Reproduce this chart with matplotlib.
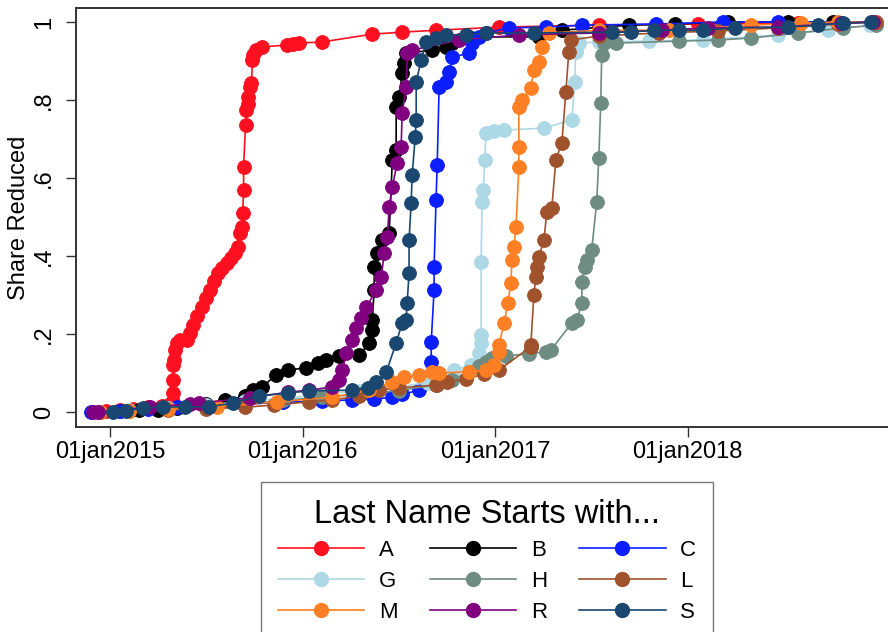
import matplotlib
matplotlib.use('Agg')
import matplotlib.pyplot as plt
from matplotlib.lines import Line2D

plt.rcParams['font.family'] = ['Liberation Sans', 'DejaVu Sans']

# ---- data (dates as decimal years, share reduced) ----
A_t = [2014.98, 2015.05, 2015.12, 2015.20, 2015.27, 2015.31, 2015.326, 2015.326, 2015.326, 2015.328, 2015.331, 2015.337, 2015.347, 2015.362, 2015.399, 2015.414, 2015.430, 2015.451, 2015.476, 2015.497, 2015.518, 2015.539, 2015.559, 2015.580, 2015.606, 2015.627, 2015.647, 2015.663, 2015.673, 2015.684, 2015.689, 2015.694, 2015.694, 2015.704, 2015.709, 2015.715, 2015.715, 2015.725, 2015.735, 2015.740, 2015.745, 2015.761, 2015.787, 2015.917, 2015.948, 2015.984, 2016.103, 2016.362, 2016.517, 2016.693, 2017.020, 2017.537, 2018.055, 2018.573, 2018.960]
A_y = [0.002, 0.005, 0.008, 0.012, 0.016, 0.020, 0.026, 0.049, 0.082, 0.120, 0.133, 0.159, 0.177, 0.185, 0.185, 0.203, 0.223, 0.246, 0.269, 0.292, 0.313, 0.336, 0.356, 0.369, 0.382, 0.395, 0.408, 0.423, 0.459, 0.474, 0.510, 0.569, 0.628, 0.736, 0.774, 0.790, 0.808, 0.833, 0.844, 0.903, 0.915, 0.928, 0.936, 0.941, 0.944, 0.946, 0.949, 0.969, 0.974, 0.979, 0.987, 0.992, 0.995, 0.997, 1.000]

B_t = [2014.95, 2015.05, 2015.15, 2015.25, 2015.35, 2015.50, 2015.60, 2015.70, 2015.741, 2015.792, 2015.860, 2015.927, 2016.020, 2016.082, 2016.124, 2016.191, 2016.295, 2016.346, 2016.362, 2016.362, 2016.372, 2016.372, 2016.388, 2016.414, 2016.450, 2016.466, 2016.486, 2016.486, 2016.502, 2016.517, 2016.528, 2016.538, 2016.673, 2016.745, 2016.776, 2016.864, 2017.227, 2017.346, 2017.693, 2017.936, 2018.210, 2018.520, 2018.755, 2018.960]
B_y = [0.000, 0.002, 0.005, 0.005, 0.010, 0.020, 0.030, 0.040, 0.056, 0.064, 0.095, 0.108, 0.113, 0.126, 0.133, 0.144, 0.146, 0.177, 0.210, 0.236, 0.313, 0.372, 0.408, 0.441, 0.459, 0.646, 0.672, 0.782, 0.808, 0.869, 0.895, 0.920, 0.928, 0.936, 0.946, 0.962, 0.962, 0.979, 0.992, 0.995, 1.000, 1.000, 1.000, 1.000]

C_t = [2014.90, 2015.05, 2015.20, 2015.35, 2015.50, 2015.70, 2015.90, 2016.10, 2016.258, 2016.372, 2016.466, 2016.517, 2016.605, 2016.652, 2016.668, 2016.668, 2016.683, 2016.683, 2016.693, 2016.699, 2016.709, 2016.745, 2016.761, 2016.776, 2016.864, 2016.880, 2016.916, 2016.952, 2017.071, 2017.263, 2017.450, 2017.833, 2018.185, 2018.470, 2018.960]
C_y = [0.000, 0.003, 0.008, 0.012, 0.016, 0.020, 0.025, 0.028, 0.031, 0.033, 0.038, 0.045, 0.056, 0.090, 0.128, 0.180, 0.313, 0.372, 0.544, 0.633, 0.833, 0.846, 0.872, 0.910, 0.920, 0.946, 0.962, 0.972, 0.985, 0.987, 0.992, 0.995, 1.000, 1.000, 1.000]

G_t = [2014.95, 2015.10, 2015.30, 2015.50, 2015.70, 2015.90, 2016.10, 2016.30, 2016.50, 2016.65, 2016.787, 2016.875, 2016.916, 2016.927, 2016.927, 2016.927, 2016.932, 2016.937, 2016.947, 2016.952, 2016.994, 2017.046, 2017.253, 2017.398, 2017.413, 2017.418, 2017.434, 2017.538, 2017.796, 2018.081, 2018.470, 2018.729, 2018.946]
G_y = [0.000, 0.004, 0.010, 0.018, 0.027, 0.035, 0.045, 0.055, 0.065, 0.075, 0.108, 0.120, 0.151, 0.177, 0.197, 0.385, 0.538, 0.569, 0.646, 0.715, 0.720, 0.723, 0.728, 0.749, 0.846, 0.923, 0.946, 0.949, 0.951, 0.954, 0.967, 0.979, 0.992]

H_t = [2014.95, 2015.10, 2015.30, 2015.50, 2015.70, 2015.90, 2016.10, 2016.30, 2016.50, 2016.70, 2016.776, 2016.864, 2016.916, 2016.952, 2016.983, 2017.056, 2017.175, 2017.263, 2017.289, 2017.398, 2017.424, 2017.450, 2017.450, 2017.465, 2017.475, 2017.501, 2017.527, 2017.538, 2017.548, 2017.553, 2017.563, 2017.626, 2017.952, 2018.159, 2018.330, 2018.573, 2018.806, 2018.977]
H_y = [0.000, 0.003, 0.008, 0.014, 0.020, 0.030, 0.038, 0.045, 0.055, 0.070, 0.082, 0.103, 0.118, 0.128, 0.138, 0.144, 0.149, 0.154, 0.159, 0.228, 0.236, 0.279, 0.333, 0.372, 0.390, 0.415, 0.538, 0.651, 0.792, 0.915, 0.946, 0.946, 0.951, 0.954, 0.959, 0.972, 0.985, 0.992]

L_t = [2014.95, 2015.10, 2015.30, 2015.50, 2015.70, 2015.85, 2016.036, 2016.155, 2016.295, 2016.398, 2016.502, 2016.693, 2016.750, 2016.849, 2016.942, 2017.020, 2017.185, 2017.185, 2017.201, 2017.211, 2017.216, 2017.227, 2017.253, 2017.268, 2017.294, 2017.315, 2017.346, 2017.367, 2017.382, 2017.393, 2017.538, 2017.848, 2018.159, 2018.470, 2018.780, 2018.977]
L_y = [0.000, 0.002, 0.005, 0.008, 0.012, 0.018, 0.026, 0.031, 0.041, 0.056, 0.062, 0.069, 0.077, 0.085, 0.097, 0.108, 0.167, 0.172, 0.300, 0.346, 0.372, 0.397, 0.441, 0.513, 0.523, 0.646, 0.690, 0.821, 0.923, 0.954, 0.964, 0.972, 0.977, 0.985, 0.995, 1.000]

M_t = [2014.95, 2015.10, 2015.30, 2015.554, 2015.865, 2016.155, 2016.346, 2016.466, 2016.528, 2016.605, 2016.673, 2016.709, 2016.864, 2016.952, 2016.994, 2017.020, 2017.020, 2017.046, 2017.066, 2017.082, 2017.087, 2017.097, 2017.108, 2017.123, 2017.123, 2017.123, 2017.139, 2017.185, 2017.201, 2017.227, 2017.242, 2017.279, 2017.538, 2017.900, 2018.330, 2018.589, 2018.780, 2018.960]
M_y = [0.000, 0.003, 0.008, 0.013, 0.026, 0.038, 0.056, 0.077, 0.090, 0.095, 0.103, 0.100, 0.103, 0.108, 0.120, 0.154, 0.172, 0.228, 0.279, 0.331, 0.390, 0.423, 0.474, 0.628, 0.679, 0.782, 0.800, 0.831, 0.877, 0.897, 0.936, 0.972, 0.979, 0.979, 0.992, 0.997, 1.000, 1.000]

R_t = [2014.912, 2014.938, 2015.207, 2015.414, 2015.461, 2015.725, 2015.927, 2016.036, 2016.155, 2016.191, 2016.207, 2016.227, 2016.258, 2016.279, 2016.305, 2016.331, 2016.383, 2016.409, 2016.424, 2016.440, 2016.450, 2016.466, 2016.491, 2016.512, 2016.517, 2016.538, 2016.543, 2016.569, 2016.812, 2017.123, 2017.538, 2017.864, 2018.107, 2018.470, 2018.796, 2018.960]
R_y = [0.000, 0.000, 0.013, 0.020, 0.023, 0.036, 0.051, 0.056, 0.064, 0.082, 0.108, 0.151, 0.185, 0.215, 0.241, 0.269, 0.313, 0.346, 0.408, 0.449, 0.526, 0.577, 0.638, 0.679, 0.767, 0.833, 0.920, 0.928, 0.954, 0.967, 0.972, 0.979, 0.985, 0.987, 0.997, 1.000]

S_t = [2015.016, 2015.083, 2015.171, 2015.274, 2015.388, 2015.513, 2015.637, 2015.772, 2015.927, 2016.036, 2016.258, 2016.341, 2016.383, 2016.435, 2016.486, 2016.517, 2016.538, 2016.543, 2016.553, 2016.553, 2016.564, 2016.569, 2016.585, 2016.590, 2016.590, 2016.616, 2016.642, 2016.693, 2016.745, 2016.849, 2016.952, 2017.201, 2017.605, 2017.703, 2017.822, 2017.952, 2018.081, 2018.247, 2018.521, 2018.677, 2018.806, 2018.951]
S_y = [0.000, 0.003, 0.010, 0.013, 0.013, 0.013, 0.023, 0.041, 0.049, 0.054, 0.056, 0.062, 0.077, 0.103, 0.177, 0.228, 0.236, 0.279, 0.356, 0.441, 0.536, 0.608, 0.705, 0.749, 0.846, 0.903, 0.949, 0.959, 0.967, 0.967, 0.972, 0.972, 0.974, 0.974, 0.979, 0.979, 0.979, 0.985, 0.987, 0.992, 0.997, 1.000]

labels = ['A', 'B', 'C', 'G', 'H', 'L', 'M', 'R', 'S']
colors = ['#FF1020', '#000000', '#0A1EFF', '#ADD8E6', '#6E8C82', '#A0522D', '#FF8024', '#800080', '#1A476F']
series = [(A_t, A_y), (B_t, B_y), (C_t, C_y), (G_t, G_y), (H_t, H_y),
          (L_t, L_y), (M_t, M_y), (R_t, R_y), (S_t, S_y)]

x_ticks = [2015, 2016, 2017, 2018]
x_ticklabels = ['01jan2015', '01jan2016', '01jan2017', '01jan2018']
y_ticks = [0, 0.2, 0.4, 0.6, 0.8, 1.0]
y_ticklabels = ['0', '.2', '.4', '.6', '.8', '1']

W, H = 888, 632
fig = plt.figure(figsize=(W / 100, H / 100), dpi=100)
ax = fig.add_axes([76 / W, 1 - 427 / H, (892 - 76) / W, (427 - 8) / H])

MS = 10
for (t, y), c, lab in zip(series, colors, labels):
    ax.plot(t, y, '-', color=c, lw=1.2, marker='o', ms=MS, mec=c, mew=0.6, label=lab)

ax.set_xlim(2014.824, 2019.06)
ax.set_ylim(-0.0385, 1.036)
ax.set_xticks(x_ticks)
ax.set_xticklabels(x_ticklabels)
ax.set_yticks(y_ticks)
ax.set_yticklabels(y_ticklabels, rotation=90, va='center')
ax.tick_params(axis='x', length=7, width=1.0, pad=3, labelsize=17, color='#333333')
ax.tick_params(axis='y', length=7, width=1.0, pad=8, labelsize=17, color='#333333')
for side in ['left', 'bottom', 'top']:
    ax.spines[side].set_color('#333333')
    ax.spines[side].set_linewidth(1.4)
ax.spines['right'].set_visible(False)

ax.set_ylabel('Share Reduced', fontsize=17)
ax.yaxis.set_label_coords(-0.056, 0.5)

# legend, row-major order A B C / G H L / M R S
handles = [Line2D([0], [0], color=c, lw=1.2, marker='o', ms=MS, mec=c) for c in colors]
order = [0, 3, 6, 1, 4, 7, 2, 5, 8]
leg = fig.legend([handles[i] for i in order], [labels[i] for i in order],
                 loc='upper center', bbox_to_anchor=(487 / W, 1 - 482 / H),
                 ncol=3, title='Last Name Starts with...', title_fontsize=23.5,
                 fontsize=16, frameon=True, fancybox=False, edgecolor='#555555',
                 handlelength=3.9, handletextpad=0.65, columnspacing=1.45,
                 labelspacing=0.45, borderpad=0.75, borderaxespad=0)
leg.get_frame().set_linewidth(1.0)

fig.savefig('out.png', dpi=100)
